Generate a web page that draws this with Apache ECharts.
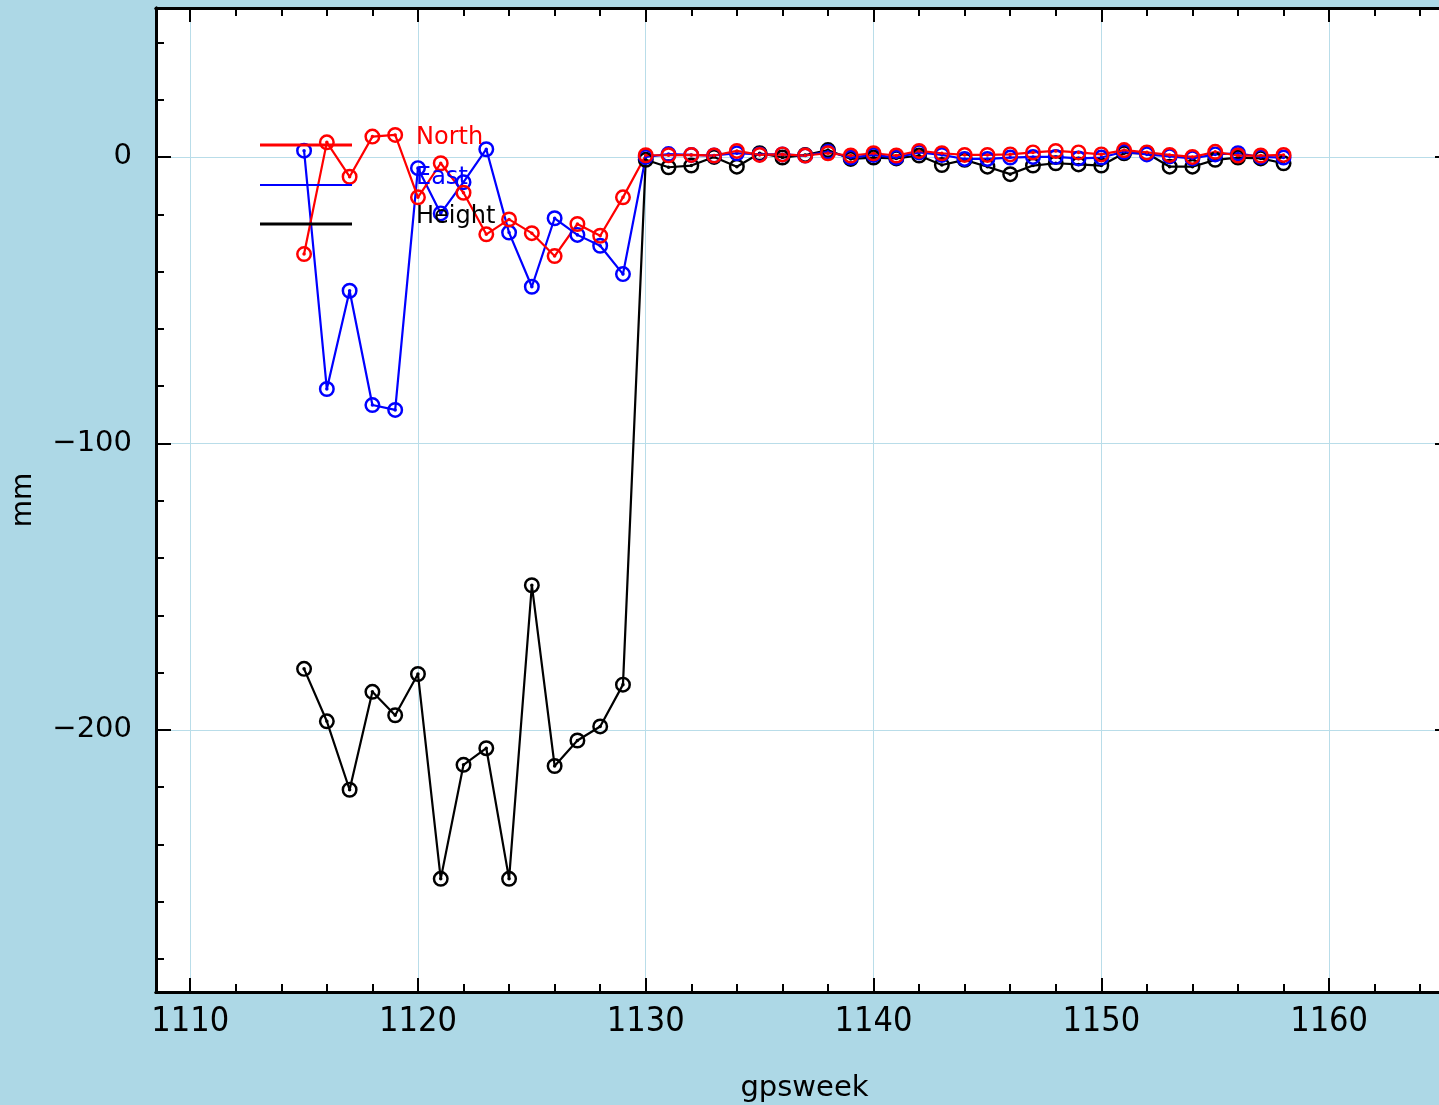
<!DOCTYPE html>
<html>
<head>
<meta charset="utf-8">
<title>gpsweek – mm</title>
<script src="https://cdn.jsdelivr.net/npm/echarts@6/dist/echarts.min.js"></script>
<style>
  html, body { margin: 0; padding: 0; background: #add8e6; }
  #chart { width: 1439px; height: 1105px; }
</style>
</head>
<body>
<div id="chart"></div>
<script>
// GPS weeks of the solutions
const weeks = [
  1115, 1116, 1117, 1118, 1119, 1120, 1121, 1122, 1123, 1124, 1125, 1126, 1127, 1128, 1129,
  1130, 1131, 1132, 1133, 1134, 1135, 1136, 1137, 1138, 1139, 1140, 1141, 1142, 1143, 1144,
  1145, 1146, 1147, 1148, 1149, 1150, 1151, 1152, 1153, 1154, 1155, 1156, 1157, 1158
];

// Coordinate residuals in mm
const north = [
  -33.9, 5.1, -6.9, 7.1, 7.7, -14.1, -2.2, -12.5, -27.0, -21.8, -26.6, -34.6, -23.4, -27.5, -14.1,
  0.6, 0.6, 0.7, 0.5, 2.1, 0.7, 0.9, 0.5, 1.3, 0.5, 1.3, 0.5, 2.1, 1.3, 0.7,
  0.7, 0.9, 1.6, 2.1, 1.6, 0.9, 2.4, 1.6, 0.7, 0.0, 1.8, 0.5, 0.5, 0.7
];
const east = [
  2.2, -81.0, -46.7, -86.6, -88.3, -3.9, -19.7, -8.8, 2.7, -26.4, -45.3, -21.4, -27.2, -31.0, -40.9,
  0.0, 1.0, 0.7, 0.5, 1.3, 0.9, 0.9, 0.5, 1.8, -0.2, 0.7, -0.2, 1.6, 0.7, -0.7,
  -0.7, -0.2, 0.0, 0.0, -0.5, -0.2, 1.8, 0.9, 0.2, -0.5, 0.9, 1.3, 0.0, -0.2
];
const height = [
  -178.7, -197.0, -220.9, -186.7, -194.9, -180.5, -252.0, -212.2, -206.4, -252.0, -149.5, -212.6, -203.7, -198.8, -184.2,
  -1.0, -3.6, -3.0, 0.0, -3.4, 1.3, -0.2, 0.7, 2.4, -0.7, -0.2, -0.5, 0.5, -2.8, -1.0,
  -3.4, -6.0, -3.0, -2.2, -2.6, -3.0, 1.3, 1.3, -3.4, -3.4, -1.0, -0.2, -0.5, -2.2
];

// Axis ticks
const xMajorTicks = [1110, 1120, 1130, 1140, 1150, 1160];
const xMinorTicks = [1112, 1114, 1116, 1118, 1122, 1124, 1126, 1128, 1132, 1134, 1136, 1138,
                     1142, 1144, 1146, 1148, 1152, 1154, 1156, 1158, 1162, 1164];
const yMajorTicks = [0, -100, -200];
const yMinorTicks = [40, 20, -20, -40, -60, -80, -120, -140, -160, -180, -220, -240, -260, -280];

const legendNames = ['North', 'East', 'Height'];

const X_MIN = 1108.5, X_MAX = 1165;
const Y_MIN = -291.5, Y_MAX = 52;

// open ring with a centre dot
const RING = 'path://M0,-10A10,10 0 1,1 0,10A10,10 0 1,1 0,-10Z' +
             'M0,-6.9A6.9,6.9 0 1,0 0,6.9A6.9,6.9 0 1,0 0,-6.9Z' +
             'M0,-2.2A2.2,2.2 0 1,1 0,2.2A2.2,2.2 0 1,1 0,-2.2Z';

const pairs = vals => weeks.map((w, i) => [w, vals[i]]);

const gridColor = '#b9dde9';
const tickLine = { color: '#000', width: 2 };

function xAxisDef(pos, ticks, len, withLabels) {
  return {
    type: 'value', position: pos, min: X_MIN, max: X_MAX,
    axisLine: { show: true, onZero: false, lineStyle: { color: '#000', width: 3 } },
    axisTick: { show: true, inside: true, length: len, customValues: ticks, lineStyle: tickLine },
    axisLabel: withLabels ? {
      show: true, customValues: ticks, margin: 13,
      fontFamily: '"DejaVu Sans Condensed", "Liberation Sans Narrow", sans-serif',
      fontSize: 34, color: '#000',
      formatter: v => String(v)
    } : { show: false },
    splitLine: { show: false }
  };
}
function yAxisDef(pos, ticks, len, withLabels) {
  return {
    type: 'value', position: pos, min: Y_MIN, max: Y_MAX,
    axisLine: { show: true, onZero: false, lineStyle: { color: '#000', width: 3 } },
    axisTick: { show: true, inside: true, length: len, customValues: ticks, lineStyle: tickLine },
    axisLabel: withLabels ? {
      show: true, customValues: ticks, margin: 24,
      fontFamily: '"DejaVu Sans", sans-serif', fontSize: 29, color: '#000',
      formatter: v => (v < 0 ? '\u2212' + Math.abs(v) : String(v))
    } : { show: false },
    splitLine: { show: false }
  };
}

const xMain = xAxisDef('bottom', xMajorTicks, 14, true);
xMain.splitLine = { show: true, lineStyle: { color: gridColor, width: 1 } };
xMain.name = 'gpsweek';
xMain.nameLocation = 'middle';
xMain.nameGap = 82;
xMain.nameTextStyle = { fontFamily: '"DejaVu Sans", sans-serif', fontSize: 29, color: '#000', padding: [0, 0, 0, 10] };

const yMain = yAxisDef('left', yMajorTicks, 15, true);
yMain.splitLine = { show: true, lineStyle: { color: gridColor, width: 1 } };
yMain.name = 'mm';
yMain.nameLocation = 'middle';
yMain.nameGap = 118;
yMain.nameTextStyle = { fontFamily: '"DejaVu Sans", sans-serif', fontSize: 28, color: '#000' };

const yRight = yAxisDef('right', yMajorTicks, 8, false);

function lineSeries(name, vals, color) {
  return {
    name, type: 'line', data: pairs(vals),
    xAxisIndex: 0, yAxisIndex: 0,
    symbol: RING, symbolSize: 16,
    lineStyle: { color, width: 2.2 },
    itemStyle: { color },
    animation: false
  };
}

const legendColors = ['#ff0000', '#0000ff', '#000000'];
const legendWidths = [3, 2, 3];
const legendY = [145, 185, 224];
const legendGraphics = [];
legendNames.forEach((n, i) => {
  legendGraphics.push({
    type: 'line', shape: { x1: 260, y1: legendY[i], x2: 352, y2: legendY[i] },
    style: { stroke: legendColors[i], lineWidth: legendWidths[i] }, z: 100
  });
  legendGraphics.push({
    type: 'text', x: 416, y: legendY[i] - 7,
    style: {
      text: n, fill: legendColors[i], font: '24px "DejaVu Sans", sans-serif',
      textVerticalAlign: 'middle', verticalAlign: 'middle'
    }, z: 100
  });
});

const chart = echarts.init(document.getElementById('chart'), null, { renderer: 'canvas' });
chart.setOption({
  backgroundColor: '#add8e6',
  animation: false,
  grid: {
    left: 156, right: -4, top: 8, bottom: 113,
    outerBoundsMode: 'none', containLabel: false,
    show: true, backgroundColor: '#ffffff', borderWidth: 0
  },
  xAxis: [
    xMain,
    xAxisDef('bottom', xMinorTicks, 8, false),
    xAxisDef('top', xMajorTicks, 14, false),
    xAxisDef('top', xMinorTicks, 8, false)
  ],
  yAxis: [
    yMain,
    yAxisDef('left', yMinorTicks, 8, false),
    yRight
  ],
  series: [
    lineSeries('Height', height, '#000000'),
    lineSeries('East', east, '#0000ff'),
    lineSeries('North', north, '#ff0000')
  ],
  graphic: legendGraphics
});
</script>
</body>
</html>
